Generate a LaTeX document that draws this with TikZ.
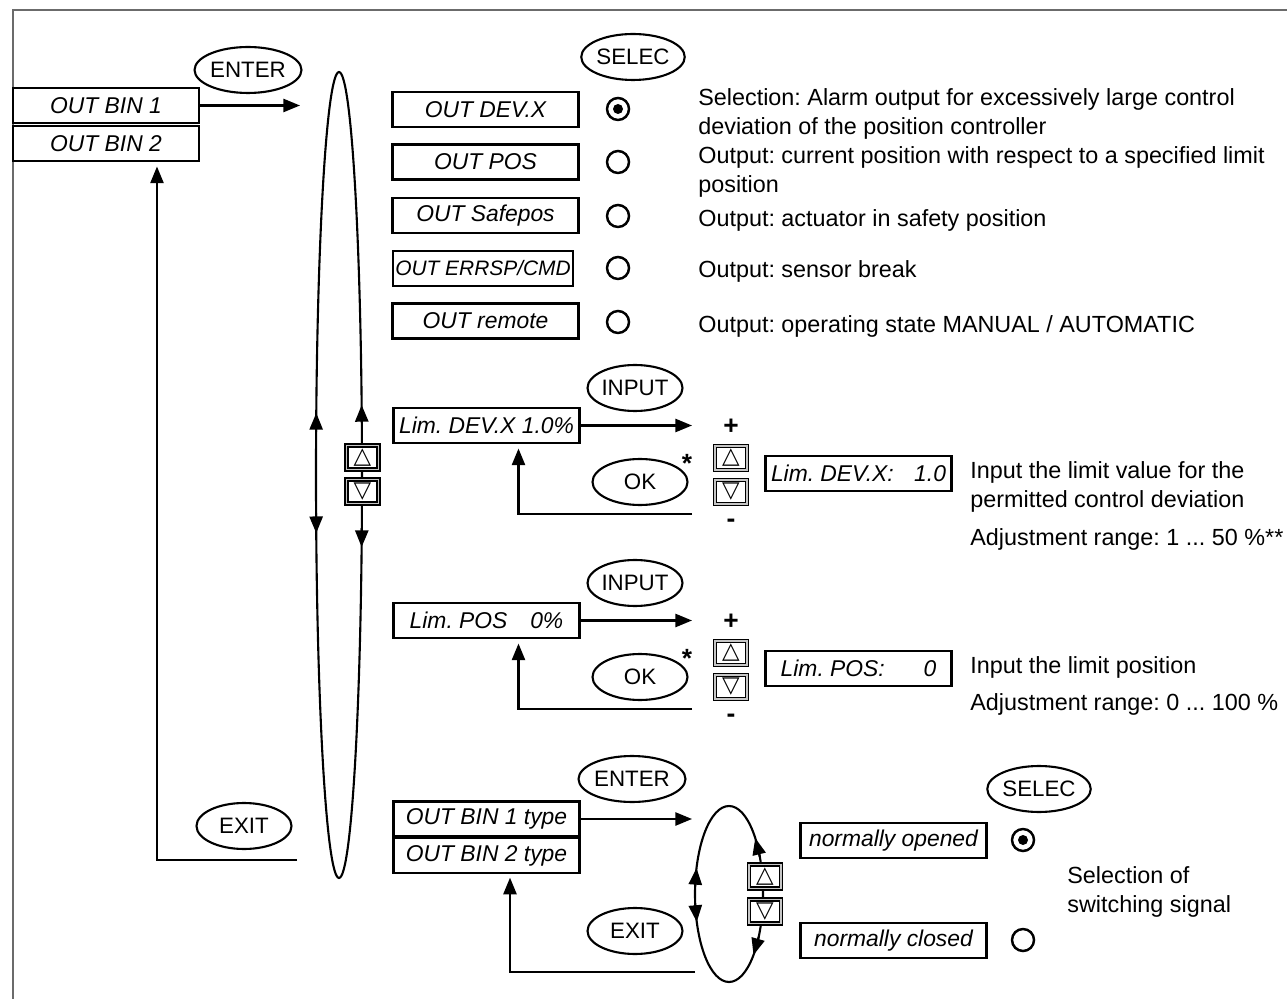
\documentclass[tikz,border=0pt]{standalone}
\usepackage{fontspec}
\setmainfont{Liberation Sans}
\newfontfamily\symfont{DejaVu Sans}
\usetikzlibrary{arrows.meta,shapes.geometric,positioning}
\definecolor{framegray}{rgb}{0.42,0.42,0.42}
\tikzset{
  dispbox/.style={draw,line width=1.3pt,minimum width=3.72cm,minimum height=0.7cm,inner sep=0pt,font=\fontsize{13}{15}\selectfont\itshape},
  keybtn/.style={draw,ellipse,line width=1.2pt,minimum width=1.9cm,minimum height=0.92cm,inner sep=0pt,font=\fontsize{12.7}{15}\selectfont},
  arrowkey/.style={draw,double=gray!45,double distance=0.9pt,line width=0.7pt,fill=white,minimum width=0.64cm,minimum height=0.48cm,inner sep=0pt,font=\symfont\fontsize{13}{13}\selectfont},
  radiobtn/.style={circle,draw,line width=1.4pt,minimum size=0.44cm,inner sep=0pt},
  desc/.style={anchor=base west,inner sep=0pt,font=\fontsize{13.3}{16.4}\selectfont},
  sign/.style={inner sep=0pt,font=\fontsize{15}{15}\selectfont\bfseries},
  conn/.style={line width=1.2pt},
  arr/.style={line width=1.2pt,-{Triangle[length=9.5pt,width=7.5pt]}}
}
\frenchspacing

\begin{document}
\begin{tikzpicture}[x=0.02cm,y=-0.02cm]
\useasboundingbox (0,0) rectangle (1287,999);
\draw[framegray,line width=1.2pt] (13,999) -- (13,10) -- (1287,10);

\node[dispbox] (binone) at (106,105.5) {OUT BIN 1};
\node[dispbox] (bintwo) at (106,143.5) {OUT BIN 2};
\node[keybtn] (enterA) at (248,70) {ENTER};
\coordinate (enterAend) at (300,105.5);
\draw[arr] (binone.east) -- (enterAend);
\node[keybtn] (exitA) at (244,826) {EXIT};
\coordinate (retA) at (297,860);
\draw[arr,shorten >=2.5pt] (retA) -| ([xshift=1.02cm]bintwo.south);

\draw[conn] (339,475) ellipse [x radius=23,y radius=403];
\foreach \a/\b in {186.1/188.85,174.6/171.7,-7.4/-10,7.56/10.3}
  \draw[arr] ({339+23*cos(\a)},{475+403*sin(\a)}) -- ({339+23*cos(\b)},{475+403*sin(\b)});
\node[arrowkey] (upA) at (362.5,457.5) {△};
\node[arrowkey] (downA) at (362.5,491.5) {▽};

\node[keybtn] (selecA) at (633,57) {SELEC};
\node[dispbox] (outdev) at (485.5,109.5) {OUT DEV.X};
\node[dispbox] (outpos) at (485.5,162) {OUT POS};
\node[dispbox] (outsafe) at (485.5,215.5) {OUT Safepos};
\node[dispbox,minimum width=3.6cm,font=\fontsize{11.9}{15}\selectfont\itshape] (outerr) at (483,268.5) {OUT ERRSP/CMD};
\node[dispbox] (outremote) at (485.5,321) {OUT remote};
\node[radiobtn] (radA) at (618,109) {};
\fill (radA) circle[radius=5];
\node[radiobtn] (radB) at (618,162) {};
\node[radiobtn] (radC) at (618,216) {};
\node[radiobtn] (radD) at (618,268) {};
\node[radiobtn] (radE) at (618,322) {};
\node[desc] (descA) at (698,106) {Selection: Alarm output for excessively large control};
\node[desc] (descAb) at (698,135) {deviation of the position controller};
\node[desc] (descB) at (698,164) {Output: current position with respect to a specified limit};
\node[desc] (descBb) at (698,193) {position};
\node[desc] (descC) at (698,227) {Output: actuator in safety position};
\node[desc] (descD) at (698,278) {Output: sensor break};
\node[desc] (descE) at (698,333) {Output: operating state MANUAL / AUTOMATIC};

\node[keybtn] (inputA) at (635,388) {INPUT};
\node[dispbox] (limdev) at (486.5,425.5) {Lim. DEV.X 1.0\%};
\coordinate (limdevend) at (692,425.5);
\draw[arr] (limdev.east) -- (limdevend);
\node[keybtn] (okA) at (640,482) {OK};
\node[sign] (starA) at (687,463) {*};
\node[sign] (plusA) at (731,427) {+};
\node[arrowkey] (upB) at (731,458) {△};
\node[arrowkey] (downB) at (731,492) {▽};
\node[sign] (minusA) at (731,523) {-};
\node[dispbox] (limdevval) at (858.5,473.5) {Lim. DEV.X:\hspace{0.9em}1.0};
\coordinate (retB) at (692,514);
\draw[arr,shorten >=2.5pt] (retB) -| ([xshift=0.64cm]limdev.south);
\node[desc] (descF) at (970,479) {Input the limit value for the};
\node[desc] (descFb) at (970,508) {permitted control deviation};
\node[desc] (descG) at (970,545) {Adjustment range: 1 ... 50 \%**};

\node[keybtn] (inputB) at (635,583) {INPUT};
\node[dispbox] (limpos) at (486.5,620.5) {Lim. POS\hspace{1em}0\%};
\coordinate (limposend) at (692,620.5);
\draw[arr] (limpos.east) -- (limposend);
\node[keybtn] (okB) at (640,677) {OK};
\node[sign] (starB) at (687,658) {*};
\node[sign] (plusB) at (731,622) {+};
\node[arrowkey] (upD) at (731,653) {△};
\node[arrowkey] (downD) at (731,687) {▽};
\node[sign] (minusB) at (731,718) {-};
\node[dispbox] (limposval) at (858.5,668.5) {Lim. POS:\hspace{1.7em}0};
\coordinate (retD) at (692,709);
\draw[arr,shorten >=2.5pt] (retD) -| ([xshift=0.64cm]limpos.south);
\node[desc] (descH) at (970,673) {Input the limit position};
\node[desc] (descI) at (970,710) {Adjustment range: 0 ... 100 \%};

\node[keybtn] (enterB) at (632,779) {ENTER};
\node[dispbox] (bintypeone) at (486.5,819) {OUT BIN 1 type};
\node[dispbox] (bintypetwo) at (486.5,855.5) {OUT BIN 2 type};
\coordinate (enterBend) at (692,819);
\draw[arr] (bintypeone.east) -- (enterBend);
\draw[conn] (729,894) ellipse [x radius=34,y radius=88];
\foreach \a/\b in {184.6/197.2,172.8/161.5,-24.9/-39.5,29.2/43.9}
  \draw[arr] ({729+34*cos(\a)},{894+88*sin(\a)}) -- ({729+34*cos(\b)},{894+88*sin(\b)});
\node[arrowkey] (upC) at (765,876.5) {△};
\node[arrowkey] (downC) at (765,911.5) {▽};
\node[keybtn] (exitB) at (635,931) {EXIT};
\coordinate (retC) at (695,972);
\draw[arr,shorten >=2pt] (retC) -| ([xshift=0.47cm]bintypetwo.south);
\node[dispbox] (normopen) at (893.5,840.5) {normally opened};
\node[dispbox] (normclosed) at (893.5,940.5) {normally closed};
\node[keybtn] (selecB) at (1039,789) {SELEC};
\node[radiobtn] (radF) at (1023,840) {};
\fill (radF) circle[radius=5];
\node[radiobtn] (radG) at (1023,940) {};
\node[desc] (descJ) at (1067,883) {Selection of};
\node[desc] (descJb) at (1067,912) {switching signal};
\end{tikzpicture}
\end{document}
